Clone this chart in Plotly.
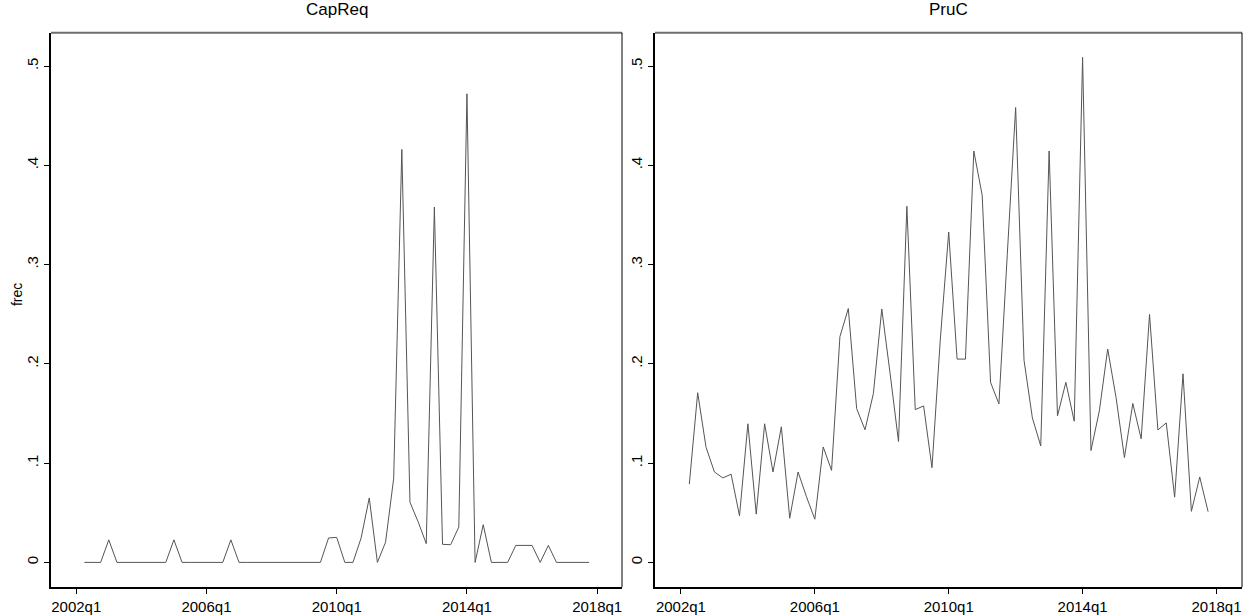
import plotly.graph_objects as go

# Quarterly periods 2002q2 .. 2017q4 (index relative to 2002q1)
first_year, first_q = 2002, 2
n_periods = 63
period_labels = []
y_, q_ = first_year, first_q
for _ in range(n_periods):
    period_labels.append(f"{y_}q{q_}")
    q_ += 1
    if q_ > 4:
        q_ = 1
        y_ += 1

def period_index(lbl):
    yy, qq = lbl.split("q")
    return (int(yy) - 2002) * 4 + (int(qq) - 1)

x_vals = [period_index(p) for p in period_labels]

capreq = [0, 0, 0, 0.0227, 0, 0, 0, 0, 0, 0, 0, 0.0227, 0, 0, 0, 0, 0, 0, 0.0227,
          0, 0, 0, 0, 0, 0, 0, 0, 0, 0, 0, 0.0246, 0.0252, 0, 0, 0.0246, 0.0649, 0,
          0.0203, 0.0845, 0.416, 0.0606, 0.041, 0.0189, 0.358, 0.0182, 0.0178, 0.0356,
          0.472, 0, 0.038, 0, 0, 0, 0.0171, 0.0171, 0.0171, 0, 0.0171, 0, 0, 0, 0, 0]

pruc = [0.0788, 0.1709, 0.116, 0.0911, 0.0851, 0.0888, 0.0469, 0.1396, 0.0486, 0.1396,
        0.0911, 0.1366, 0.0445, 0.0911, 0.0662, 0.0435, 0.1163, 0.0927, 0.2274, 0.2557,
        0.1549, 0.1336, 0.1702, 0.2553, 0.19, 0.1217, 0.3587, 0.1539, 0.1576, 0.0954,
        0.225, 0.3328, 0.2048, 0.2048, 0.4144, 0.3699, 0.1814, 0.1597, 0.31, 0.4582,
        0.2036, 0.1455, 0.1173, 0.4144, 0.1476, 0.1814, 0.1422, 0.5087, 0.1127, 0.1526,
        0.2149, 0.1661, 0.1056, 0.1601, 0.1245, 0.2498, 0.1334, 0.1405, 0.0657, 0.19,
        0.0514, 0.086, 0.0511]

x_tick_labels = ["2002q1", "2006q1", "2010q1", "2014q1", "2018q1"]
y_tick_vals = [0, 0.1, 0.2, 0.3, 0.4, 0.5]
y_tick_text = ["0", ".1", ".2", ".3", ".4", ".5"]
panel_titles = ["CapReq", "PruC"]
y_title = "frec"

W, H = 1249, 615
LINE_COLOR = "#555555"
FONT = "Liberation Sans, Arial, sans-serif"

fig = go.Figure()
fig.add_trace(go.Scatter(x=x_vals, y=capreq, mode="lines",
                         line=dict(color=LINE_COLOR, width=1), xaxis="x", yaxis="y",
                         showlegend=False))
fig.add_trace(go.Scatter(x=x_vals, y=pruc, mode="lines",
                         line=dict(color=LINE_COLOR, width=1), xaxis="x2", yaxis="y2",
                         showlegend=False))

x_tick_vals = [period_index(l) for l in x_tick_labels]

def px_x(p):
    return p / W

def px_y(p):
    return 1 - p / H

dom1 = [px_x(51), px_x(622)]
dom2 = [px_x(655), px_x(1242)]
ydom = [px_y(593), px_y(33)]

xcommon = dict(range=[-3.1, 67.05], tickvals=x_tick_vals, ticktext=x_tick_labels,
               showline=True, linecolor="black", linewidth=2, ticks="outside",
               ticklen=5, tickcolor="black", tickwidth=1, showgrid=False, zeroline=False,
               tickfont=dict(family=FONT, size=15, color="black"))
ycommon = dict(range=[-0.025, 0.5336], tickvals=y_tick_vals, ticktext=y_tick_text,
               showline=True, linecolor="black", linewidth=1.5, ticks="outside",
               ticklen=5, tickcolor="black", tickwidth=1, showgrid=False, zeroline=False,
               tickangle=-90, tickfont=dict(family=FONT, size=15, color="black"))

fig.update_layout(
    width=W, height=H, autosize=False,
    margin=dict(l=0, r=0, t=0, b=0),
    paper_bgcolor="white", plot_bgcolor="white",
    xaxis=dict(domain=dom1, anchor="y", **xcommon),
    yaxis=dict(domain=ydom, anchor="x", **ycommon),
    xaxis2=dict(domain=dom2, anchor="y2", **xcommon),
    yaxis2=dict(domain=ydom, anchor="x2", **ycommon),
)

# plot region borders (top grey, right black)
for xr, yr in [("x domain", "y domain"), ("x2 domain", "y2 domain")]:
    fig.add_shape(type="line", xref=xr, yref=yr, x0=0, x1=1, y0=1, y1=1,
                  line=dict(color="#6e6e6e", width=2))
    fig.add_shape(type="line", xref=xr, yref=yr, x0=1, x1=1, y0=0, y1=1,
                  line=dict(color="black", width=1))

# panel titles
for dom, title in zip([dom1, dom2], panel_titles):
    fig.add_annotation(text=title, xref="paper", yref="paper",
                       x=(dom[0] + dom[1]) / 2, y=px_y(10), xanchor="center",
                       yanchor="middle", showarrow=False,
                       font=dict(family=FONT, size=17, color="black"))

fig.add_annotation(text=y_title, xref="paper", yref="paper", x=px_x(17), y=px_y(298),
                   xanchor="center", yanchor="middle", textangle=-90, showarrow=False,
                   font=dict(family=FONT, size=14, color="black"))

fig.write_html("out.html", config={"displayModeBar": False},
               post_script="document.body.style.margin='0';document.body.style.overflow='hidden';")
